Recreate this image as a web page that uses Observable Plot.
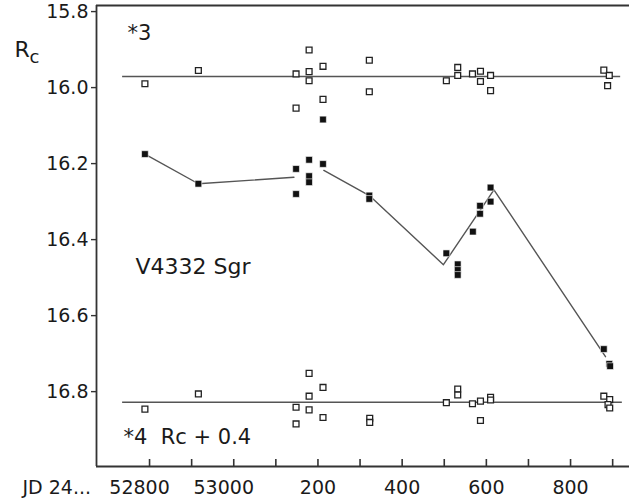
<!DOCTYPE html>
<html>
<head>
<meta charset="utf-8">
<script src="https://cdn.jsdelivr.net/npm/d3@7"></script>
<script src="https://cdn.jsdelivr.net/npm/@observablehq/plot@0.6"></script>
<style>
  html, body { margin: 0; padding: 0; background: #fff; }
  #chart svg { display: block; }
</style>
</head>
<body>
<div id="chart"></div>
<script>
// Comparison star *3 (open squares)
const jd3 = [52789, 52916, 53148, 53148, 53179, 53179, 53179, 53212, 53212, 53322, 53322, 53505, 53532, 53532, 53567, 53586, 53586, 53610, 53610, 53879, 53892, 53888];
const rc3 = [15.990, 15.955, 15.964, 16.054, 15.901, 15.958, 15.982, 15.944, 16.031, 15.928, 16.011, 15.982, 15.947, 15.968, 15.964, 15.957, 15.984, 15.968, 16.008, 15.954, 15.968, 15.995];

// V4332 Sgr (filled squares)
const jdV = [52789, 52916, 53148, 53148, 53179, 53179, 53179, 53212, 53212, 53322, 53322, 53505, 53532, 53532, 53532, 53568, 53585, 53585, 53610, 53610, 53879, 53892, 53894];
const rcV = [16.175, 16.253, 16.214, 16.280, 16.190, 16.233, 16.249, 16.084, 16.201, 16.284, 16.293, 16.436, 16.465, 16.480, 16.493, 16.379, 16.332, 16.311, 16.300, 16.263, 16.688, 16.727, 16.733];

// Trend line through V4332 Sgr nightly means (two pieces)
const trendJD  = [52789, 52916, 53143, 53214, 53322, 53498, 53618, 53883];
const trendRc  = [16.175, 16.253, 16.236, 16.218, 16.284, 16.466, 16.269, 16.708];
const trendSeg = [1, 1, 1, 2, 2, 2, 2, 2];

// Comparison star *4, Rc + 0.4 (open squares)
const jd4 = [52789, 52916, 53148, 53148, 53179, 53179, 53179, 53212, 53212, 53323, 53323, 53505, 53532, 53532, 53567, 53586, 53586, 53610, 53610, 53879, 53893, 53889, 53893];
const rc4 = [16.846, 16.806, 16.841, 16.885, 16.752, 16.812, 16.848, 16.789, 16.868, 16.870, 16.881, 16.829, 16.793, 16.809, 16.832, 16.825, 16.876, 16.815, 16.822, 16.812, 16.821, 16.834, 16.843];

// Mean levels of comparison stars
const compLevel = [15.971, 16.828];
const compStart = [52736, 52736];
const compEnd   = [53919, 53923];

// Axes
const xDomain = [52674, 53940];
const yDomain = [15.784, 16.997];
const xMinorTicks = [52800, 52900, 53000, 53100, 53200, 53300, 53400, 53500, 53600, 53700, 53800, 53900];
const xLongTicks = [52800, 53000];
const xLongLabels = ["52800", "53000"];
const xShortTicks = [53200, 53400, 53600, 53800];
const xShortLabels = ["200", "400", "600", "800"];
const yTicks = [15.8, 16.0, 16.2, 16.4, 16.6, 16.8];

const star3 = jd3.map((x, i) => ({x, y: rc3[i]}));
const star4 = jd4.map((x, i) => ({x, y: rc4[i]}));
const target = jdV.map((x, i) => ({x, y: rcV[i]}));
const trend = trendJD.map((x, i) => ({x, y: trendRc[i], seg: trendSeg[i]}));
const comps = compLevel.map((y, i) => ({y, x1: compStart[i], x2: compEnd[i]}));

const ink = "#1a1a1a";
const fontFamily = "'DejaVu Sans', sans-serif";

const note = (t, opts) => Plot.text([t], {text: d => d, textAnchor: "start", lineAnchor: "top", fill: ink, ...opts});

const chart = Plot.plot({
  width: 629,
  height: 502,
  marginLeft: 96,
  marginRight: 0,
  marginTop: 5,
  marginBottom: 36,
  style: {fontFamily, fontSize: "19px", color: ink, background: "#fff", overflow: "visible"},
  x: {domain: xDomain},
  y: {domain: yDomain, reverse: true},
  marks: [
    // frame (left, top, bottom)
    Plot.ruleX([xDomain[0]], {stroke: "#333", strokeWidth: 1.8}),
    Plot.ruleY(yDomain, {stroke: "#333", strokeWidth: 1.8}),
    // inward x ticks
    Plot.tickX(xMinorTicks, {x: d => d, insetTop: 454, stroke: "#333", strokeWidth: 1.6}),
    // x labels
    Plot.axisX({ticks: xLongTicks, tickSize: 0, tickPadding: 14, dx: -10, tickFormat: (d, i) => xLongLabels[i], label: null, fill: ink}),
    Plot.axisX({ticks: xShortTicks, tickSize: 0, tickPadding: 14, tickFormat: (d, i) => xShortLabels[i], label: null, fill: ink}),
    // y axis
    Plot.axisY({ticks: yTicks, tickSize: 5, tickPadding: 3, tickFormat: d3.format(".1f"), label: null, stroke: "#333", strokeWidth: 1.4, fill: ink}),
    // comparison levels
    Plot.ruleY(comps, {y: "y", x1: "x1", x2: "x2", stroke: "#555", strokeWidth: 1.5}),
    // trend
    Plot.line(trend, {x: "x", y: "y", z: "seg", stroke: "#555", strokeWidth: 1.4}),
    // points
    Plot.dot(star3, {x: "x", y: "y", symbol: "square", r: 3.3, fill: "white", stroke: "#222", strokeWidth: 1.3}),
    Plot.dot(star4, {x: "x", y: "y", symbol: "square", r: 3.3, fill: "white", stroke: "#222", strokeWidth: 1.3}),
    Plot.dot(target, {x: "x", y: "y", symbol: "square", r: 3.8, fill: "#111", stroke: "white", strokeWidth: 0.6}),
    // annotations
    note("*3", {frameAnchor: "top-left", dx: 31, dy: 20, fontSize: 21}),
    note("V4332 Sgr", {frameAnchor: "top-left", dx: 39, dy: 253, fontSize: 22}),
    note("*4\u00a0 Rc + 0.4", {frameAnchor: "top-left", dx: 27, dy: 424, fontSize: 21}),
    note("R", {frameAnchor: "top-left", dx: -82, dy: 36, fontSize: 22}),
    note("c", {frameAnchor: "top-left", dx: -67, dy: 45, fontSize: 18}),
    note("JD 24...", {frameAnchor: "bottom-left", dx: -74, dy: 14, fontSize: 19})
  ]
});
document.getElementById("chart").appendChild(chart);
</script>
</body>
</html>
